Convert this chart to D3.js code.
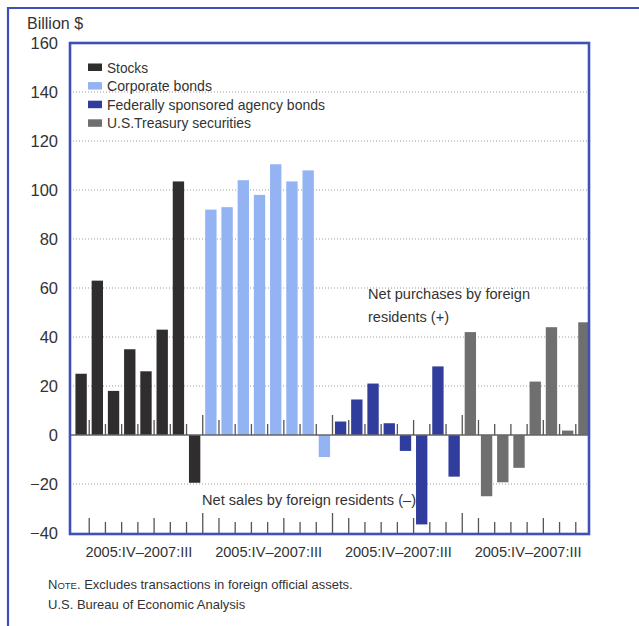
<!DOCTYPE html>
<html>
<head>
<meta charset="utf-8">
<script src="https://cdn.jsdelivr.net/npm/d3@7"></script>
<style>
  body { margin: 0; background: #fff; }
  text { font-family: "Liberation Sans", Arial, sans-serif; fill: #333; }
</style>
</head>
<body>
<div id="graph"></div>
<script>
/*******************************************************************************
* Data
*******************************************************************************/
var seriesNames = ["Stocks", "Corporate bonds", "Federally sponsored agency bonds", "U.S.Treasury securities"];
var quarters = ["2005:IV", "2006:I", "2006:II", "2006:III", "2006:IV", "2007:I", "2007:II", "2007:III"];
var stocks = [25, 63, 18, 35, 26, 43, 103.5, -19.5];
var corporateBonds = [92, 93, 104, 98, 110.5, 103.5, 108, -9];
var agencyBonds = [5.5, 14.5, 21, 4.8, -6.5, -36.5, 28, -17];
var treasury = [42, -25, -19.3, -13.4, 21.8, 44, 1.8, 46];
var yTicks = [-40, -20, 0, 20, 40, 60, 80, 100, 120, 140, 160];
var colors = ["#2f2d2e", "#93b3f2", "#303d9c", "#6f6f70"];

var allSeries = [stocks, corporateBonds, agencyBonds, treasury];
var bars = [];
allSeries.forEach(function(vals, s){
  vals.forEach(function(v, q){
    bars.push({ idx: s * quarters.length + q, series: s, value: v });
  });
});

/*******************************************************************************
* Svg Container
*******************************************************************************/
var W = 639, H = 626;
var plot = { left: 70, top: 43, right: 589, bottom: 534 };
var frameBlue = "#3f50b6";

var svg = d3.select("#graph").append("svg")
  .attr("width", W)
  .attr("height", H);

// outer frame (only top and left edges show)
svg.append("path")
  .attr("d", "M8," + H + "V8H" + W)
  .attr("fill", "none")
  .attr("stroke", frameBlue)
  .attr("stroke-width", 2.2);

var y = d3.scaleLinear().domain([-40, 160]).range([533, 43]);
var x = d3.scaleBand()
  .domain(d3.range(bars.length))
  .range([73, 592])
  .paddingInner(0.3)
  .paddingOuter(0.15);
var padOff = x.step() * 0.15;
function boundary(i){ return x(i) - padOff; }

/*******************************************************************************
* grid
*******************************************************************************/
svg.append("g").selectAll("line")
  .data(yTicks.filter(function(t){ return t > -40 && t < 160 && t !== 0; }))
  .enter().append("line")
  .attr("x1", plot.left)
  .attr("x2", plot.right)
  .attr("y1", function(d){ return y(d); })
  .attr("y2", function(d){ return y(d); })
  .attr("stroke", "#9a9a9a")
  .attr("stroke-width", 1)
  .attr("stroke-dasharray", "1,2");

/*******************************************************************************
* bars
*******************************************************************************/
svg.append("g").selectAll("rect")
  .data(bars)
  .enter().append("rect")
  .attr("x", function(d){ return x(d.idx); })
  .attr("width", x.bandwidth())
  .attr("y", function(d){ return y(Math.max(0, d.value)); })
  .attr("height", function(d){ return Math.abs(y(d.value) - y(0)); })
  .style("fill", function(d){ return colors[d.series]; });

// zero line
svg.append("line")
  .attr("x1", plot.left).attr("x2", plot.right)
  .attr("y1", y(0)).attr("y2", y(0))
  .attr("stroke", "#666").attr("stroke-width", 1.3);

/*******************************************************************************
* quarter ticks (zero line and bottom)
*******************************************************************************/
var tickIdx = d3.range(1, bars.length);
function tickLen(i){
  if (i % 8 === 0) return 20;
  if (i % 8 === 1 || i % 8 === 5) return 15;
  return 11;
}
var ticks = svg.append("g").attr("stroke", "#555").attr("stroke-width", 1.3);
ticks.selectAll("line.zt")
  .data(tickIdx)
  .enter().append("line")
  .attr("class", "zt")
  .attr("x1", boundary).attr("x2", boundary)
  .attr("y1", y(0)).attr("y2", function(d){ return y(0) - tickLen(d); });
ticks.selectAll("line.bt")
  .data(tickIdx)
  .enter().append("line")
  .attr("class", "bt")
  .attr("x1", boundary).attr("x2", boundary)
  .attr("y1", plot.bottom - 1).attr("y2", function(d){ return plot.bottom - 1 - tickLen(d); });

// plot frame
svg.append("rect")
  .attr("x", plot.left).attr("y", plot.top)
  .attr("width", plot.right - plot.left)
  .attr("height", plot.bottom - plot.top)
  .attr("fill", "none")
  .attr("stroke", frameBlue)
  .attr("stroke-width", 2.6);

/*******************************************************************************
* y labels
*******************************************************************************/
svg.append("text")
  .attr("x", 27).attr("y", 29)
  .style("font-size", "16px")
  .text("Billion $");

svg.append("g").selectAll("text")
  .data(yTicks)
  .enter().append("text")
  .attr("x", 58)
  .attr("y", function(d){ return y(d) + 6; })
  .attr("text-anchor", "end")
  .style("font-size", "16.5px")
  .text(function(d){ return d < 0 ? "\u2212" + Math.abs(d) : d; });

/*******************************************************************************
* x group labels
*******************************************************************************/
var groupLabel = quarters[0] + "\u2013" + quarters[quarters.length - 1];
svg.append("g").selectAll("text")
  .data(seriesNames)
  .enter().append("text")
  .attr("x", function(d, i){ return (boundary(i * 8) + boundary(i * 8 + 7) + x.step()) / 2 + 1; })
  .attr("y", 557)
  .attr("text-anchor", "middle")
  .style("font-size", "14.5px")
  .attr("textLength", 107)
  .attr("lengthAdjust", "spacingAndGlyphs")
  .text(groupLabel);

/*******************************************************************************
* legend
*******************************************************************************/
var legendWidths = [41, 105, 218, 144];
var legend = svg.append("g").selectAll("g")
  .data(seriesNames)
  .enter().append("g")
  .attr("transform", function(d, i){ return "translate(88," + (67 + i * 18.6) + ")"; });
legend.append("rect")
  .attr("x", 0).attr("y", -3.5)
  .attr("width", 14).attr("height", 7.5)
  .style("fill", function(d, i){ return colors[i]; });
legend.append("text")
  .attr("x", 19).attr("y", 5.5)
  .style("font-size", "15.5px")
  .attr("textLength", function(d, i){ return legendWidths[i]; })
  .attr("lengthAdjust", "spacingAndGlyphs")
  .text(function(d){ return d; });

/*******************************************************************************
* annotations
*******************************************************************************/
svg.append("text").attr("x", 368).attr("y", 299)
  .style("font-size", "15.5px")
  .attr("textLength", 162).attr("lengthAdjust", "spacingAndGlyphs")
  .text("Net purchases by foreign");
svg.append("text").attr("x", 368).attr("y", 322)
  .style("font-size", "15.5px")
  .attr("textLength", 81).attr("lengthAdjust", "spacingAndGlyphs")
  .text("residents (+)");
svg.append("text").attr("x", 202).attr("y", 505)
  .style("font-size", "15.5px")
  .attr("textLength", 214).attr("lengthAdjust", "spacingAndGlyphs")
  .text("Net sales by foreign residents (\u2013)");

/*******************************************************************************
* note / source
*******************************************************************************/
var note = svg.append("text").attr("x", 48).attr("y", 589)
  .style("font-size", "13px");
note.append("tspan").text("N");
note.append("tspan").style("font-size", "9.5px").text("OTE");
note.append("tspan").text(". Excludes transactions in foreign official assets.");

svg.append("text").attr("x", 48).attr("y", 609)
  .style("font-size", "13px")
  .text("U.S. Bureau of Economic Analysis");
</script>
</body>
</html>
